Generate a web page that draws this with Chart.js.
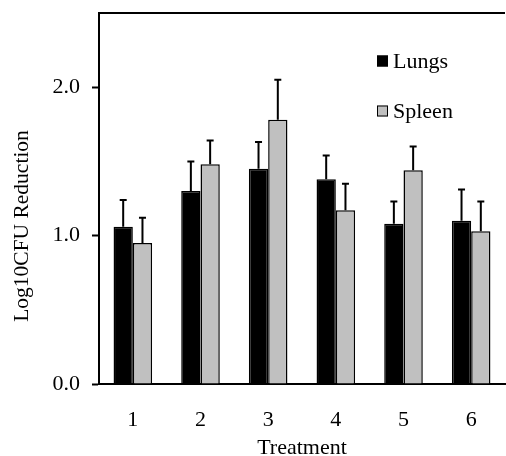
<!DOCTYPE html>
<html>
<head>
<meta charset="utf-8">
<script src="https://cdn.jsdelivr.net/npm/chart.js@4/dist/chart.umd.min.js"></script>
<style>
    html, body { margin: 0; padding: 0; background: #ffffff; }
    #wrap { width: 506px; height: 456px; position: relative; }
</style>
</head>
<body>
<div id="wrap"><canvas id="cfuChart"></canvas></div>
<script>
const treatments = ['1', '2', '3', '4', '5', '6'];
const lungs = [1.06, 1.30, 1.45, 1.38, 1.08, 1.10];
const lungsSd = [0.18, 0.20, 0.18, 0.16, 0.15, 0.21];
const spleen = [0.95, 1.48, 1.78, 1.17, 1.44, 1.03];
const spleenSd = [0.17, 0.16, 0.27, 0.18, 0.16, 0.20];
const yTicks = [0, 1, 2];

const serif = "'Liberation Serif', 'Times New Roman', serif";

// error bars, top half only
const errorBars = {
    id: 'errorBars',
    afterDatasetsDraw(chart) {
        const ctx = chart.ctx;
        const y = chart.scales.y;
        ctx.save();
        ctx.strokeStyle = '#000000';
        ctx.lineWidth = 2;
        chart.data.datasets.forEach(function(ds, di) {
            const meta = chart.getDatasetMeta(di);
            meta.data.forEach(function(bar, i) {
                const top = y.getPixelForValue(ds.data[i] + ds.sd[i]);
                ctx.beginPath();
                ctx.moveTo(bar.x, bar.y);
                ctx.lineTo(bar.x, top);
                ctx.moveTo(bar.x - 3.5, top);
                ctx.lineTo(bar.x + 3.5, top);
                ctx.stroke();
            });
        });
        ctx.restore();
    }
};

// top frame line, legend inside the plot, rotated y title
const decorations = {
    id: 'decorations',
    afterDraw(chart) {
        const ctx = chart.ctx;
        const area = chart.chartArea;
        ctx.save();
        ctx.strokeStyle = '#000000';
        ctx.lineWidth = 2;
        ctx.beginPath();
        ctx.moveTo(area.left - 1, area.top);
        ctx.lineTo(area.right, area.top);
        ctx.stroke();

        ctx.font = '22px ' + serif;
        ctx.textBaseline = 'middle';
        ctx.fillStyle = '#000000';
        const rows = [61, 111];
        chart.data.datasets.forEach(function(ds, di) {
            const cy = rows[di];
            ctx.fillStyle = ds.backgroundColor;
            ctx.fillRect(377, cy - 5.5, 11, 11);
            ctx.lineWidth = 1;
            ctx.strokeRect(377.5, cy - 5, 10, 10);
            ctx.fillStyle = '#000000';
            ctx.fillText(ds.label, 393, cy + 1);
        });

        ctx.translate(22, 226);
        ctx.rotate(-Math.PI / 2);
        ctx.textAlign = 'center';
        ctx.font = '21.5px ' + serif;
        ctx.fillText('Log10CFU Reduction', 0, 0);
        ctx.restore();
    }
};

new Chart(document.getElementById('cfuChart'), {
    type: 'bar',
    data: {
        labels: treatments,
        datasets: [{
            label: 'Lungs',
            data: lungs,
            sd: lungsSd,
            backgroundColor: '#000000',
            borderColor: '#000000',
            borderWidth: 1.5
        }, {
            label: 'Spleen',
            data: spleen,
            sd: spleenSd,
            backgroundColor: '#c0c0c0',
            borderColor: '#000000',
            borderWidth: 1.5
        }]
    },
    options: {
        responsive: true,
        maintainAspectRatio: false,
        animation: false,
        layout: {
            padding: { top: 13, right: 1, left: 0, bottom: 0 }
        },
        datasets: {
            bar: {
                categoryPercentage: 0.57,
                barPercentage: 1.0
            }
        },
        plugins: {
            legend: { display: false },
            tooltip: { enabled: false }
        },
        scales: {
            x: {
                grid: { display: false },
                border: { display: true, color: '#000000', width: 2 },
                ticks: {
                    color: '#000000',
                    padding: 15,
                    font: { family: serif, size: 22 }
                },
                title: {
                    display: true,
                    text: 'Treatment',
                    color: '#000000',
                    padding: { top: 0, bottom: -3 },
                    font: { family: serif, size: 22, lineHeight: 1 }
                },
                afterFit(scale) { scale.height = 72; }
            },
            y: {
                min: 0,
                max: 2.5,
                grid: {
                    drawOnChartArea: false,
                    drawTicks: true,
                    tickLength: 7,
                    tickWidth: 2,
                    color: '#000000'
                },
                border: { display: true, color: '#000000', width: 2 },
                afterBuildTicks(scale) {
                    scale.ticks = yTicks.map(function(v) { return { value: v }; });
                },
                ticks: {
                    color: '#000000',
                    padding: 12,
                    font: { family: serif, size: 22 },
                    callback: function(v) { return Number(v).toFixed(1); }
                },
                afterFit(scale) {
                    scale.width = 99;
                    scale.paddingTop = 0;
                    scale.paddingBottom = 0;
                }
            }
        }
    },
    plugins: [errorBars, decorations]
});
</script>
</body>
</html>
